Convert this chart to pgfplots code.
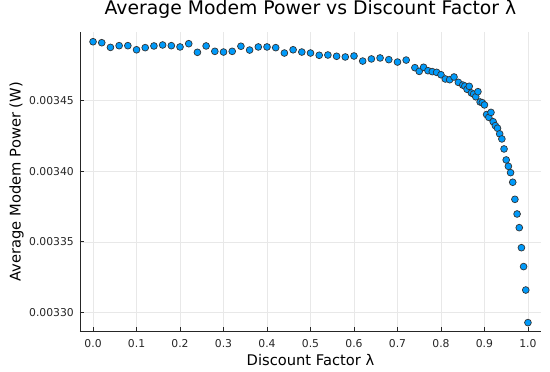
\documentclass[border=0pt]{standalone}
\usepackage{fontspec}
\setmainfont{DejaVu Sans}
\usepackage{pgfplots}
\usepackage{pgfplotstable}
\pgfplotsset{compat=1.18}
\definecolor{pblue}{RGB}{0,154,250}
\pgfplotstableread{
x y
0.00 0.0034918
0.02 0.0034911
0.04 0.0034878
0.06 0.0034890
0.08 0.0034890
0.10 0.0034861
0.12 0.0034876
0.14 0.0034888
0.16 0.0034895
0.18 0.0034890
0.20 0.0034881
0.22 0.0034904
0.24 0.0034843
0.26 0.0034888
0.28 0.0034850
0.30 0.0034845
0.32 0.0034850
0.34 0.0034886
0.36 0.0034859
0.38 0.0034881
0.40 0.0034881
0.42 0.0034876
0.44 0.0034838
0.46 0.0034861
0.48 0.0034845
0.50 0.0034838
0.52 0.0034822
0.54 0.0034824
0.56 0.0034815
0.58 0.0034810
0.60 0.0034817
0.62 0.0034781
0.64 0.0034796
0.66 0.0034803
0.68 0.0034791
0.70 0.0034774
0.72 0.0034788
0.74 0.0034734
0.75 0.0034708
0.76 0.0034737
0.77 0.0034713
0.78 0.0034706
0.79 0.0034701
0.80 0.0034684
0.81 0.0034654
0.82 0.0034649
0.83 0.0034668
0.84 0.0034630
0.85 0.0034611
0.855 0.0034604
0.860 0.0034581
0.865 0.0034602
0.870 0.0034555
0.875 0.0034547
0.880 0.0034528
0.885 0.0034564
0.890 0.0034491
0.895 0.0034486
0.900 0.0034470
0.905 0.0034402
0.910 0.0034382
0.915 0.0034417
0.920 0.0034351
0.925 0.0034323
0.930 0.0034305
0.935 0.0034265
0.940 0.0034229
0.945 0.0034158
0.950 0.0034080
0.955 0.0034035
0.960 0.0033990
0.965 0.0033922
0.970 0.0033801
0.975 0.0033697
0.980 0.0033600
0.985 0.0033458
0.990 0.0033324
0.995 0.0033158
1.000 0.0032927
}\datatable
\begin{document}
\begin{tikzpicture}
\begin{axis}[
  name=ax,
  scale only axis,
  width=461bp, height=299.5bp,
  xmin=-0.03, xmax=1.03,
  ymin=0.0032864, ymax=0.0034987,
  axis lines=left,
  axis line style={black!85, line width=0.9bp, -},
  xtick={0,0.1,0.2,0.3,0.4,0.5,0.6,0.7,0.8,0.9,1.0},
  ytick={0.00330,0.00335,0.00340,0.00345},
  scaled x ticks=false, scaled y ticks=false,
  xticklabel={\pgfmathprintnumber[fixed,fixed zerofill,precision=1]{\tick}},
  yticklabel={\pgfmathprintnumber[fixed,fixed zerofill,precision=5]{\tick}},
  /pgf/number format/assume math mode=true,
  tick align=inside,
  major tick length=4bp,
  tick style={black!85, line width=0.7bp},
  grid=major,
  major grid style={black!9, line width=0.5bp},
  ticklabel style={font=\fontsize{10.8bp}{13bp}\selectfont, text=black!85},
  xticklabel style={anchor=base, yshift=-15.7bp},
  yticklabel style={inner sep=0pt, anchor=east, xshift=-6bp},
  xlabel={Discount Factor λ},
  ylabel={Average Modem Power (W)},
  label style={font=\fontsize{14.7bp}{17bp}\selectfont},
  xlabel style={at={(axis description cs:0.5,-0.1137)}, anchor=base},
  ylabel style={at={(axis description cs:-0.1286,0.5)}, anchor=base},
  title={Average Modem Power vs Discount Factor λ},
  title style={font=\fontsize{18.8bp}{22bp}\selectfont, at={(axis description cs:0.5,1.0378)}, anchor=base},
  clip=false,
]
\addplot[only marks, mark=*, mark size=3.4bp, mark options={fill=pblue, draw=black!80, line width=0.7bp}] table[x=x,y=y] {\datatable};
\end{axis}
\pgfresetboundingbox
\path[use as bounding box] ([xshift=-80bp,yshift=-40.5bp]ax.south west) rectangle ([xshift=9bp,yshift=32bp]ax.north east);
\end{tikzpicture}
\end{document}
